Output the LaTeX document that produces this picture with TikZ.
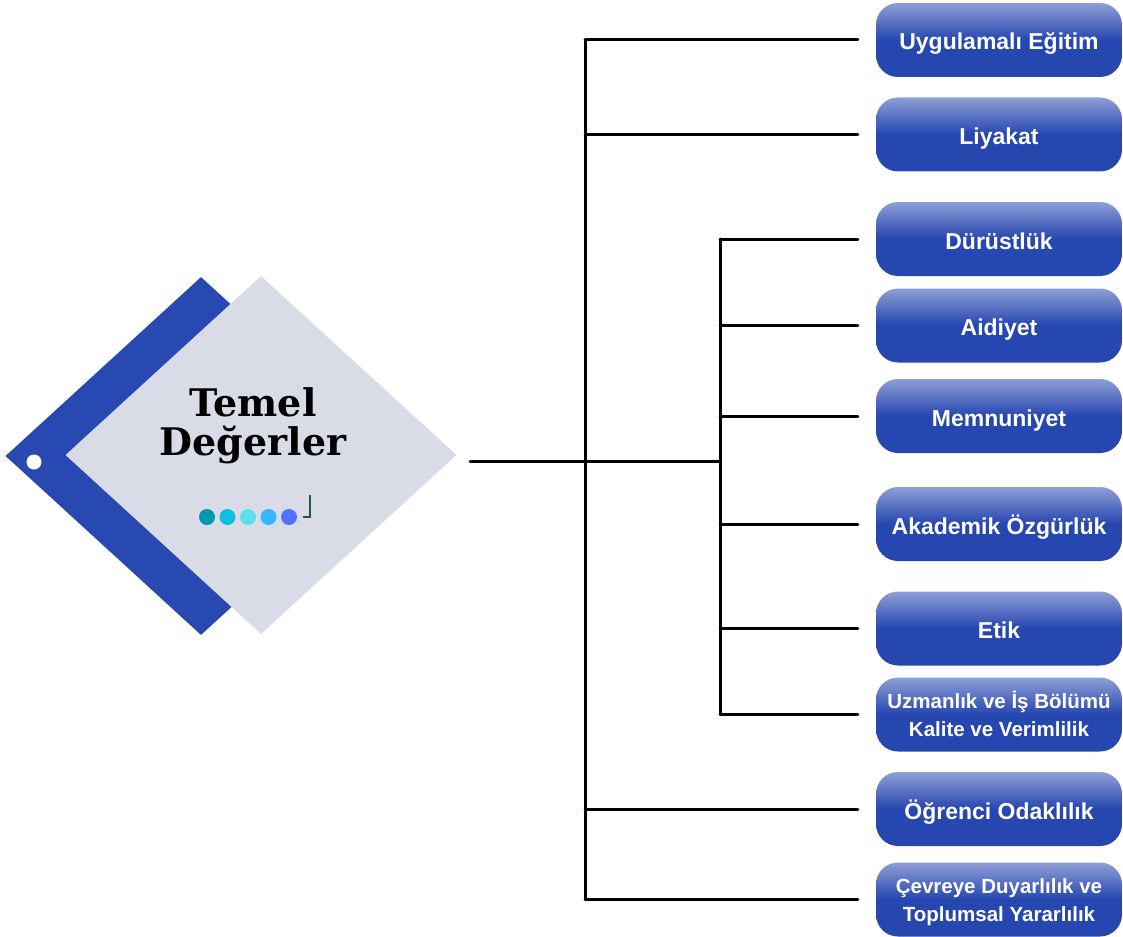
\documentclass[tikz,border=0pt]{standalone}
\usepackage{fontspec}
\setmainfont{Liberation Sans}
\newfontfamily\titlefont{DejaVu Serif}
\usetikzlibrary{shapes.geometric}

\definecolor{bandblue}{HTML}{2849B1}
\definecolor{boxblue}{HTML}{2646B0}
\definecolor{boxhi}{HTML}{8E9FD6}
\definecolor{tilegrey}{HTML}{D9DCE6}
\definecolor{dotA}{HTML}{0097B2}
\definecolor{dotB}{HTML}{0CC0DF}
\definecolor{dotC}{HTML}{5CE1E6}
\definecolor{dotD}{HTML}{38B6FF}
\definecolor{dotE}{HTML}{5271FF}
\definecolor{markgreen}{HTML}{1F5A3A}

\tikzset{
  valbox/.style={rectangle, rounded corners=22pt, minimum width=246pt, minimum height=74pt,
    inner sep=0pt, top color=boxhi, bottom color=boxblue, middle color=boxblue,
    text=white, align=center, text height=23pt, text depth=3pt,
    font=\bfseries\fontsize{23}{26}\selectfont},
  twoline/.style={text height=47pt, text depth=4pt, font=\bfseries\fontsize{20.5}{28}\selectfont},
  link/.style={line width=3pt, line cap=round},
  title/.style={anchor=base, font=\titlefont\bfseries\fontsize{38}{39}\selectfont},
}

\begin{document}
\begin{tikzpicture}[x=1pt, y=-1pt]
  \useasboundingbox (0,0) rectangle (1123,936);

  % left tile
  \node[diamond, fill=bandblue, minimum width=391pt, minimum height=358pt, inner sep=0pt] (band) at (201,456) {};
  \node[diamond, fill=tilegrey, minimum width=391pt, minimum height=358pt, inner sep=0pt] (tile) at (261,455) {};
  \fill[white] (34,462) circle (7.5);
  \node[title] (temel) at (253,416) {Temel};
  \node[title] (degerler) at (253,455) {Değerler};
  \foreach \c [count=\i] in {dotA,dotB,dotC,dotD,dotE}
    \fill[\c] (186.5+20.5*\i,517) circle (8);
  \draw[markgreen, line width=1.2pt] (303,517) -- (310,517) -- (310,495);

  % value boxes
  \node[valbox] (uyg) at (999,40) {Uygulamalı Eğitim};
  \node[valbox] (liy) at (999,134.5) {Liyakat};
  \node[valbox] (dur) at (999,239) {Dürüstlük};
  \node[valbox] (aid) at (999,325.5) {Aidiyet};
  \node[valbox] (mem) at (999,416) {Memnuniyet};
  \node[valbox] (aka) at (999,524) {Akademik Özgürlük};
  \node[valbox] (etik) at (999,628.5) {Etik};
  \node[valbox, twoline] (uzm) at (999,714.5) {Uzmanlık ve İş Bölümü\\Kalite ve Verimlilik};
  \node[valbox] (ogr) at (999,809) {Öğrenci Odaklılık};
  \node[valbox, twoline] (cev) at (999,899.5) {Çevreye Duyarlılık ve\\Toplumsal Yararlılık};

  % connectors
  \coordinate (hub) at (470,461);
  \coordinate (outer) at (585,461);
  \coordinate (inner) at (720,461);
  \draw[link] (hub) -- (inner);
  \draw[link] (outer |- uyg.west) -- (outer |- cev.west);
  \draw[link] (inner |- dur.west) -- (inner |- uzm.west);
  \foreach \n in {uyg,liy,ogr,cev}
    \draw[link, shorten >=18pt] (outer |- \n.west) -- (\n.west);
  \foreach \n in {dur,aid,mem,aka,etik,uzm}
    \draw[link, shorten >=18pt] (inner |- \n.west) -- (\n.west);
\end{tikzpicture}
\end{document}
